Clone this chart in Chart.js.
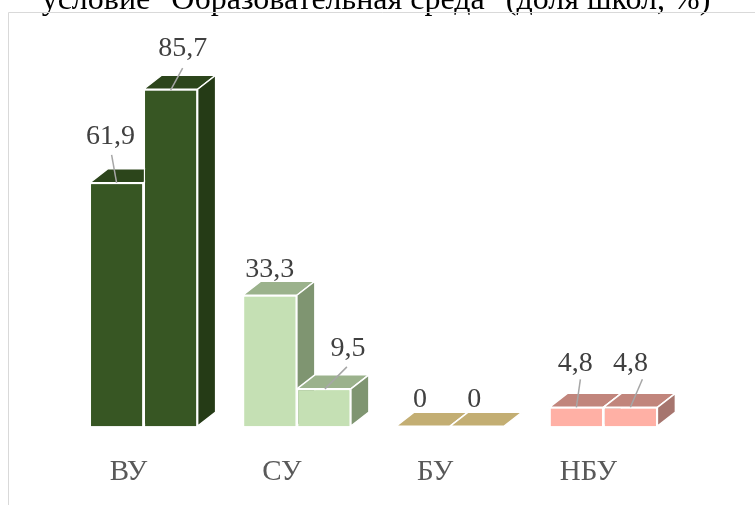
<!DOCTYPE html>
<html>
<head>
<meta charset="utf-8">
<script src="https://cdn.jsdelivr.net/npm/chart.js@4/dist/chart.umd.min.js"></script>
<style>
  html, body { margin: 0; padding: 0; background: #fff; overflow: hidden; }
  #wrap { width: 755px; height: 505px; position: relative; overflow: hidden; }
</style>
</head>
<body>
<div id="wrap"><canvas id="grafico" width="755" height="530"></canvas></div>
<script>
// Данные
const categorias = ['ВУ', 'СУ', 'БУ', 'НБУ'];
const serie1 = [61.9, 33.3, 0, 4.8];
const serie2 = [85.7, 9.5, 0, 4.8];
const titulo = 'условие "Образовательная среда" (доля школ, %)';

// Цвета по категориям: лицевая грань, верх, бок
const corFrente = ['#375623', '#c5e0b4', '#d9c890', '#ffb0a5'];
const corTopo = ['#2c451b', '#9bb28c', '#c3ae73', '#c1857c'];
const corLado = ['#253b16', '#7f9571', '#a8965f', '#a6756e'];

// Смещения подписей (px от центра лицевой грани) и выноски
const posRotulo = [
    [[-6, -46], [0, -26], [-3, -27], [-1, -44]],
    [[12, -41], [24, -40], [-3, -27], [0, -44]]
];
const linhaRotulo = [
    [[[-5, -28], [0, 0]], null, null, [[4, -28], [0, 0]]],
    [[[12, -21], [0, 1]], [[23, -22], [1, 0]], null, [[12, -28], [0, 0]]]
];

const DX = 18, DY = 14;
const fonteSerif = '"Liberation Serif", "Times New Roman", serif';

function desenhaFaces(ctx, bar, i) {
    const l = bar.x - bar.width / 2;
    const r = bar.x + bar.width / 2;
    const t = bar.y;
    const b = bar.base;
    ctx.save();
    ctx.strokeStyle = '#ffffff';
    ctx.lineWidth = 1.5;
    ctx.lineJoin = 'round';
    // верх
    ctx.fillStyle = corTopo[i];
    ctx.beginPath();
    ctx.moveTo(l, t);
    ctx.lineTo(l + DX, t - DY);
    ctx.lineTo(r + DX, t - DY);
    ctx.lineTo(r, t);
    ctx.closePath();
    ctx.fill();
    ctx.stroke();
    // бок
    if (b - t > 0.5) {
        ctx.fillStyle = corLado[i];
        ctx.beginPath();
        ctx.moveTo(r, t);
        ctx.lineTo(r + DX, t - DY);
        ctx.lineTo(r + DX, b - DY);
        ctx.lineTo(r, b);
        ctx.closePath();
        ctx.fill();
        ctx.stroke();
    }
    ctx.restore();
}

const plugin3d = {
    id: 'barras3d',
    beforeDraw(chart) {
        const ctx = chart.ctx;
        ctx.save();
        ctx.fillStyle = '#000';
        ctx.font = '32px ' + fonteSerif;
        ctx.textAlign = 'center';
        ctx.textBaseline = 'alphabetic';
        ctx.fillText(titulo, 376, 9);
        ctx.strokeStyle = '#d9d9d9';
        ctx.lineWidth = 1;
        ctx.beginPath();
        ctx.moveTo(8.5, 540);
        ctx.lineTo(8.5, 12.5);
        ctx.lineTo(760, 12.5);
        ctx.stroke();
        ctx.restore();
    },
    afterDatasetsDraw(chart) {
        const ctx = chart.ctx;
        // перерисовка в нужном порядке: ряд 1, затем ряд 2 поверх
        chart.data.datasets.forEach((ds, d) => {
            const meta = chart.getDatasetMeta(d);
            meta.data.forEach((bar, i) => {
                bar.draw(ctx, chart.chartArea);
                desenhaFaces(ctx, bar, i);
            });
        });
        ctx.save();
        ctx.font = '28px ' + fonteSerif;
        ctx.textAlign = 'center';
        ctx.textBaseline = 'middle';
        chart.data.datasets.forEach((ds, d) => {
            const meta = chart.getDatasetMeta(d);
            meta.data.forEach((bar, i) => {
                const p = posRotulo[d][i];
                const ln = linhaRotulo[d][i];
                if (ln) {
                    ctx.strokeStyle = '#a6a6a6';
                    ctx.lineWidth = 1.5;
                    ctx.beginPath();
                    ctx.moveTo(bar.x + ln[0][0], bar.y + ln[0][1]);
                    ctx.lineTo(bar.x + ln[1][0], bar.y + ln[1][1]);
                    ctx.stroke();
                }
                ctx.fillStyle = '#404040';
                ctx.fillText(String(ds.data[i]).replace('.', ','), bar.x + p[0], bar.y + p[1]);
            });
        });
        ctx.restore();
    }
};

new Chart(document.getElementById('grafico'), {
    type: 'bar',
    data: {
        labels: categorias,
        datasets: [
            { label: 'Ряд 1', data: serie1, backgroundColor: corFrente, borderColor: '#ffffff', borderWidth: 1.5 },
            { label: 'Ряд 2', data: serie2, backgroundColor: corFrente, borderColor: '#ffffff', borderWidth: 1.5 }
        ]
    },
    options: {
        responsive: false,
        animation: false,
        events: [],
        layout: { padding: { left: 67, right: 75, top: 33, bottom: 11 } },
        datasets: { bar: { barPercentage: 1, categoryPercentage: 0.705 } },
        plugins: {
            legend: { display: false },
            title: { display: false },
            tooltip: { enabled: false }
        },
        scales: {
            x: {
                grid: { display: false, drawTicks: false },
                border: { display: false },
                ticks: {
                    color: '#595959',
                    font: { family: fonteSerif, size: 29 },
                    padding: 29,
                    labelOffset: -15
                }
            },
            y: {
                display: false,
                min: 0,
                max: 100
            }
        }
    },
    plugins: [plugin3d]
});
</script>
</body>
</html>
